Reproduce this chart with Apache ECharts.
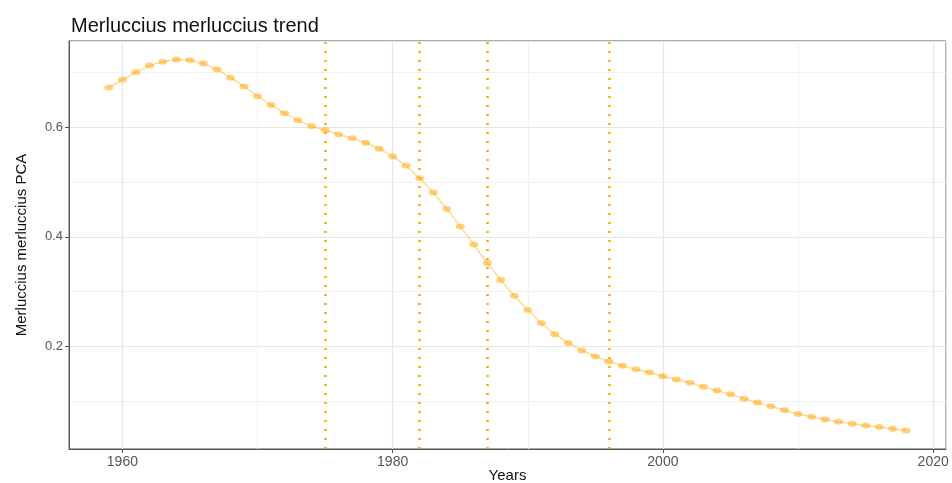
<!DOCTYPE html>
<html>
<head>
<meta charset="utf-8">
<script src="https://cdn.jsdelivr.net/npm/echarts@6/dist/echarts.min.js"></script>
<style>
  html, body { margin: 0; padding: 0; background: #fff; }
  #chart { width: 952px; height: 483px; }
</style>
</head>
<body>
<div id="chart"></div>
<script>
// years and PCA trend values
const years = [1959, 1960, 1961, 1962, 1963, 1964, 1965, 1966, 1967, 1968,
  1969, 1970, 1971, 1972, 1973, 1974, 1975, 1976, 1977, 1978,
  1979, 1980, 1981, 1982, 1983, 1984, 1985, 1986, 1987, 1988,
  1989, 1990, 1991, 1992, 1993, 1994, 1995, 1996, 1997, 1998,
  1999, 2000, 2001, 2002, 2003, 2004, 2005, 2006, 2007, 2008,
  2009, 2010, 2011, 2012, 2013, 2014, 2015, 2016, 2017, 2018]
const trend = [0.673, 0.687, 0.701, 0.713, 0.720, 0.724, 0.723, 0.717, 0.706, 0.691,
  0.675, 0.657, 0.641, 0.626, 0.613, 0.602, 0.595, 0.587, 0.580, 0.572,
  0.561, 0.547, 0.530, 0.507, 0.481, 0.451, 0.419, 0.386, 0.352, 0.321,
  0.292, 0.266, 0.242, 0.222, 0.206, 0.192, 0.181, 0.172, 0.164, 0.158,
  0.152, 0.145, 0.139, 0.133, 0.126, 0.119, 0.112, 0.104, 0.097, 0.090,
  0.083, 0.076, 0.071, 0.066, 0.062, 0.058, 0.055, 0.052, 0.049, 0.046]
// breakpoints (dotted vertical lines)
const breakYears = [1975, 1982, 1987, 1996]

const points = []
for (let i = 0; i < years.length; i++) {
  points.push([years[i], trend[i]])
}

const font = 'Liberation Sans, Arial, sans-serif'
const border = '#555'

var myChart = echarts.init(document.getElementById('chart'))
myChart.setOption({
  animation: false,
  backgroundColor: '#fff',
  title: {
    text: 'Merluccius merluccius trend',
    left: 66,
    top: 11,
    textStyle: { fontFamily: font, fontSize: 20, fontWeight: 'normal', color: '#111' }
  },
  grid: {
    left: 69, right: 6, top: 41, bottom: 34,
    outerBoundsMode: 'none',
    show: true, borderColor: border, borderWidth: 1, backgroundColor: 'transparent'
  },
  xAxis: {
    type: 'value',
    min: 1956.05,
    max: 2020.95,
    splitNumber: 3,
    name: 'Years',
    nameLocation: 'middle',
    nameGap: 19,
    nameMoveOverlap: false,
    nameTextStyle: { fontFamily: font, fontSize: 15, color: '#111' },
    axisLine: { show: true, lineStyle: { color: border, width: 1 } },
    axisTick: { show: true, length: 4, lineStyle: { color: border } },
    axisLabel: {
      fontFamily: font, fontSize: 14, color: '#555', margin: 6,
      showMinLabel: false, showMaxLabel: false,
      formatter: function (v) { return String(v) }
    },
    splitLine: { show: true, lineStyle: { color: '#e6e6e6', width: 1.2 } },
    minorTick: { show: false, splitNumber: 2 },
    minorSplitLine: { show: true, lineStyle: { color: '#f1f1f1', width: 1 } }
  },
  yAxis: {
    type: 'value',
    min: 0.012,
    max: 0.758,
    splitNumber: 4,
    name: 'Merluccius merluccius PCA',
    nameLocation: 'middle',
    nameRotate: 90,
    nameGap: 40,
    nameMoveOverlap: false,
    nameTextStyle: { fontFamily: font, fontSize: 15, color: '#111' },
    axisLine: { show: true, lineStyle: { color: border, width: 1 } },
    axisTick: { show: true, length: 4, lineStyle: { color: border } },
    axisLabel: { fontFamily: font, fontSize: 13, color: '#555', margin: 6, showMinLabel: false, showMaxLabel: false },
    splitLine: { show: true, lineStyle: { color: '#e6e6e6', width: 1.2 } },
    minorTick: { show: false, splitNumber: 2 },
    minorSplitLine: { show: true, lineStyle: { color: '#f1f1f1', width: 1 } }
  },
  series: [
    {
      type: 'line',
      data: points,
      smooth: false,
      symbol: 'circle',
      symbolSize: [9, 6],
      itemStyle: { color: 'rgba(255,165,0,0.5)' },
      lineStyle: { color: 'rgba(255,165,0,0.4)', width: 1.5 },
      markLine: {
        silent: true,
        symbol: 'none',
        label: { show: false },
        lineStyle: { color: '#FFA500', width: 2.5, type: [2, 7], opacity: 1 },
        data: breakYears.map(function (y) { return { xAxis: y } })
      },
      z: 3
    }
  ]
})
</script>
</body>
</html>
